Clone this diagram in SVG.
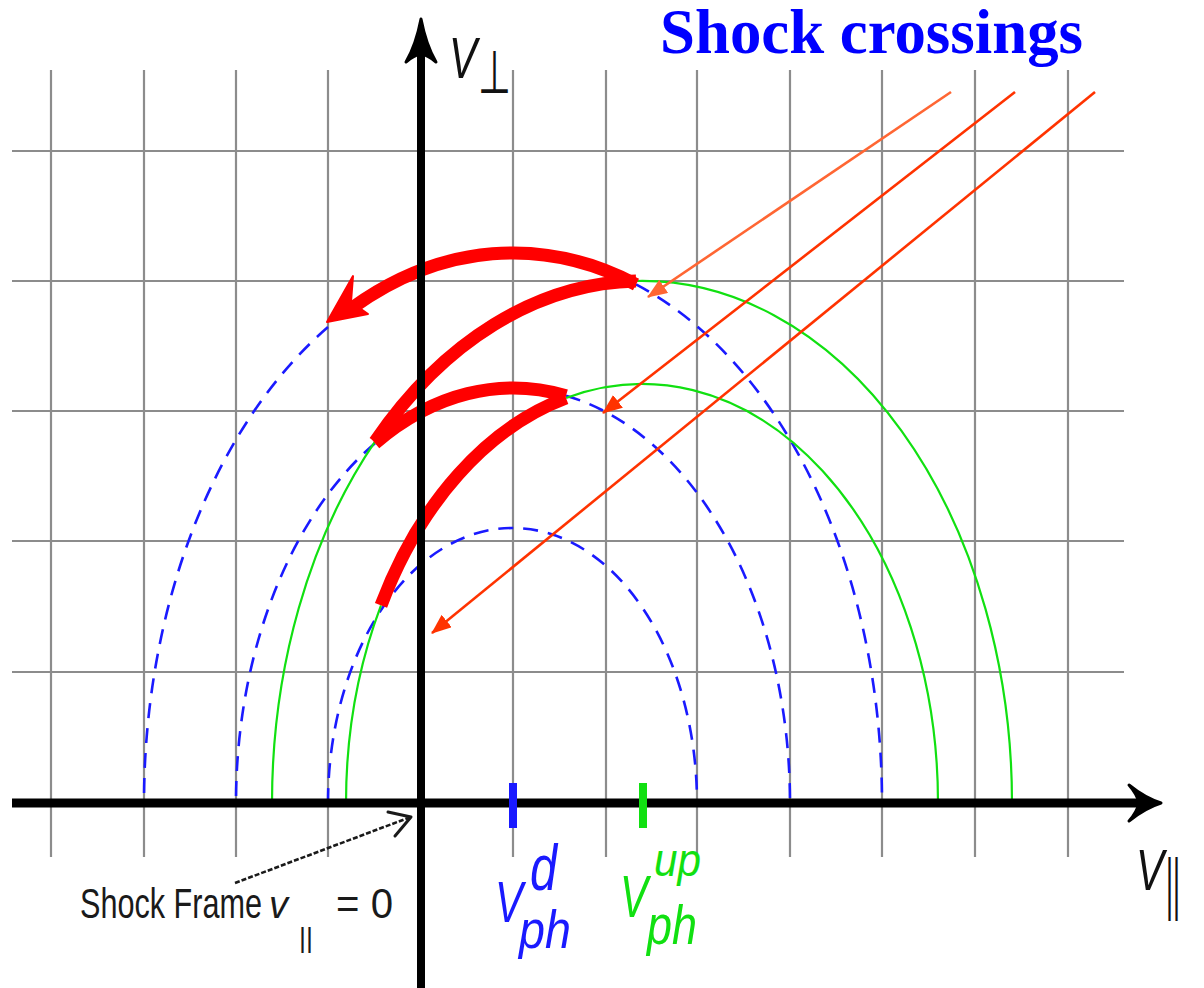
<svg xmlns="http://www.w3.org/2000/svg" width="1204" height="988" viewBox="0 0 1204 988">
<style>
.grid line{stroke:#8c8c8c;stroke-width:2.2}
.blue{fill:none;stroke:#1a1aff;stroke-width:2.6;stroke-dasharray:15 10}
.green{fill:none;stroke:#11e011;stroke-width:2.2}
.red{fill:none;stroke:#ff0000;stroke-width:13}
.shock{stroke-width:2.6;fill:none}
.lbl{font-family:"Liberation Sans",Arial,sans-serif;font-style:italic}
.plain{font-family:"Liberation Sans",Arial,sans-serif}
</style>
<defs>
<marker id="ah1" markerUnits="userSpaceOnUse" viewBox="0 0 20 16" markerWidth="20" markerHeight="16" refX="19" refY="8" orient="auto"><path d="M0,0 L20,8 L0,16 Z" fill="#ff6633"/></marker>
<marker id="ah2" markerUnits="userSpaceOnUse" viewBox="0 0 20 16" markerWidth="20" markerHeight="16" refX="19" refY="8" orient="auto"><path d="M0,0 L20,8 L0,16 Z" fill="#ff3300"/></marker>
</defs>
<rect width="1204" height="988" fill="#ffffff"/>
<g class="grid" id="grid">
<line x1="51" y1="70" x2="51" y2="857"/>
<line x1="144" y1="70" x2="144" y2="857"/>
<line x1="236" y1="70" x2="236" y2="857"/>
<line x1="328" y1="70" x2="328" y2="857"/>
<line x1="513" y1="70" x2="513" y2="857"/>
<line x1="606" y1="70" x2="606" y2="857"/>
<line x1="697" y1="70" x2="697" y2="857"/>
<line x1="790" y1="70" x2="790" y2="857"/>
<line x1="882" y1="70" x2="882" y2="857"/>
<line x1="975" y1="70" x2="975" y2="857"/>
<line x1="1068" y1="70" x2="1068" y2="857"/>
<line x1="12" y1="151" x2="1124" y2="151"/>
<line x1="12" y1="281" x2="1124" y2="281"/>
<line x1="12" y1="411" x2="1124" y2="411"/>
<line x1="12" y1="541" x2="1124" y2="541"/>
<line x1="12" y1="672" x2="1124" y2="672"/>
</g>
<g id="curves">
<path class="blue" d="M636,284.4 A369,550 0 0 1 882,803"/>
<path class="blue" d="M328,327.1 A369,550 0 0 0 144,803"/>
<path class="blue" d="M566,395.7 A277,415 0 0 1 790,803"/>
<path class="blue" d="M375,443.2 A277,415 0 0 0 236,803"/>
<path class="blue" d="M328,803 A184.5,275 0 0 1 697,803"/>
<path class="green" d="M636,281 A370,522 0 0 1 1012,803"/>
<path class="green" d="M375,441.6 A370,522 0 0 0 272,803"/>
<path class="green" d="M566,398 A296,419 0 0 1 938,803"/>
<path class="green" d="M381,605.4 A296,419 0 0 0 346,803"/>
</g>
<g id="transfers">
<path class="red" d="M636,284.4 A369,550 0 0 0 352,308"/>
<path d="M327,322 L353,276 L351,302 L368,314 Z" fill="#ff0000" stroke="#ff0000" stroke-width="2" stroke-linejoin="round"/>
<path class="red" d="M636,281 A370,522 0 0 0 375,441.6"/>
<path class="red" d="M566,395.7 A277,415 0 0 0 375,443.2"/>
<path class="red" d="M566,398 A296,419 0 0 0 381,605.4"/>
</g>
<g id="connectors">
<line class="shock" x1="951" y1="92" x2="648" y2="297" stroke="#ff6633" marker-end="url(#ah1)"/>
<line class="shock" x1="1015" y1="92" x2="603" y2="413" stroke="#ff3300" marker-end="url(#ah2)"/>
<line class="shock" x1="1095" y1="92" x2="432" y2="633" stroke="#ff3300" marker-end="url(#ah2)"/>
<line x1="235" y1="883" x2="408" y2="818" stroke="#1a1a1a" stroke-width="2.6" stroke-dasharray="5 2"/>
<path d="M388,812 L411,817 L395,836" fill="none" stroke="#1a1a1a" stroke-width="3" stroke-linejoin="round" stroke-linecap="round"/>
</g>
<g id="axes">
<line x1="421" y1="45" x2="421" y2="988" stroke="#000" stroke-width="8"/>
<path d="M421,19 Q426,45 436,62 Q428,55 421,54 Q414,55 406,62 Q416,45 421,19 Z" fill="#000" stroke="#000" stroke-width="3" stroke-linejoin="round"/>
<line x1="12" y1="803" x2="1140" y2="803" stroke="#000" stroke-width="9"/>
<path d="M1161,803 Q1145,808 1129,821 Q1137,812 1139,803 Q1137,794 1129,785 Q1145,798 1161,803 Z" fill="#000" stroke="#000" stroke-width="3" stroke-linejoin="round"/>
<line x1="513" y1="783" x2="513" y2="828" stroke="#1a1aff" stroke-width="8"/>
<line x1="643" y1="783" x2="643" y2="828" stroke="#11e011" stroke-width="8"/>
</g>
<g id="labels">
<text x="660" y="53" font-family="'Liberation Serif','Times New Roman',serif" font-weight="bold" font-size="64" fill="#0000ff" textLength="423" lengthAdjust="spacingAndGlyphs">Shock crossings</text>
<text class="lbl" x="449" y="78" font-size="57" fill="#111" textLength="28" lengthAdjust="spacingAndGlyphs">V</text>
<text x="478" y="93" font-family="'DejaVu Sans',sans-serif" font-size="60" fill="#111" textLength="33" lengthAdjust="spacingAndGlyphs">⊥</text>
<text class="lbl" x="1136" y="890" font-size="58" fill="#111" textLength="28" lengthAdjust="spacingAndGlyphs">V</text>
<text class="plain" x="1166" y="907" font-size="68" fill="#111" textLength="14" lengthAdjust="spacingAndGlyphs">||</text>
<text class="plain" x="80" y="918" font-size="43" fill="#1a1a1a" textLength="182" lengthAdjust="spacingAndGlyphs">Shock Frame</text>
<text class="lbl" x="269" y="918" font-size="38" fill="#1a1a1a">v</text>
<text class="plain" x="299" y="947" font-size="27" fill="#1a1a1a" textLength="14" lengthAdjust="spacingAndGlyphs">||</text>
<text class="plain" x="336" y="918" font-size="43" fill="#1a1a1a" textLength="57" lengthAdjust="spacingAndGlyphs">= 0</text>
<text class="lbl" x="495" y="922" font-size="58" fill="#1a1aff" textLength="28" lengthAdjust="spacingAndGlyphs">V</text>
<text class="lbl" x="530" y="890" font-size="64" fill="#1a1aff" textLength="27" lengthAdjust="spacingAndGlyphs">d</text>
<text class="lbl" x="519" y="948" font-size="54" fill="#1a1aff" textLength="52" lengthAdjust="spacingAndGlyphs">ph</text>
<text class="lbl" x="620" y="917" font-size="60" fill="#11e011" textLength="28" lengthAdjust="spacingAndGlyphs">V</text>
<text class="lbl" x="654" y="876" font-size="46" fill="#11e011" textLength="47" lengthAdjust="spacingAndGlyphs">up</text>
<text class="lbl" x="647" y="944" font-size="55" fill="#11e011" textLength="50" lengthAdjust="spacingAndGlyphs">ph</text>
</g>
</svg>
